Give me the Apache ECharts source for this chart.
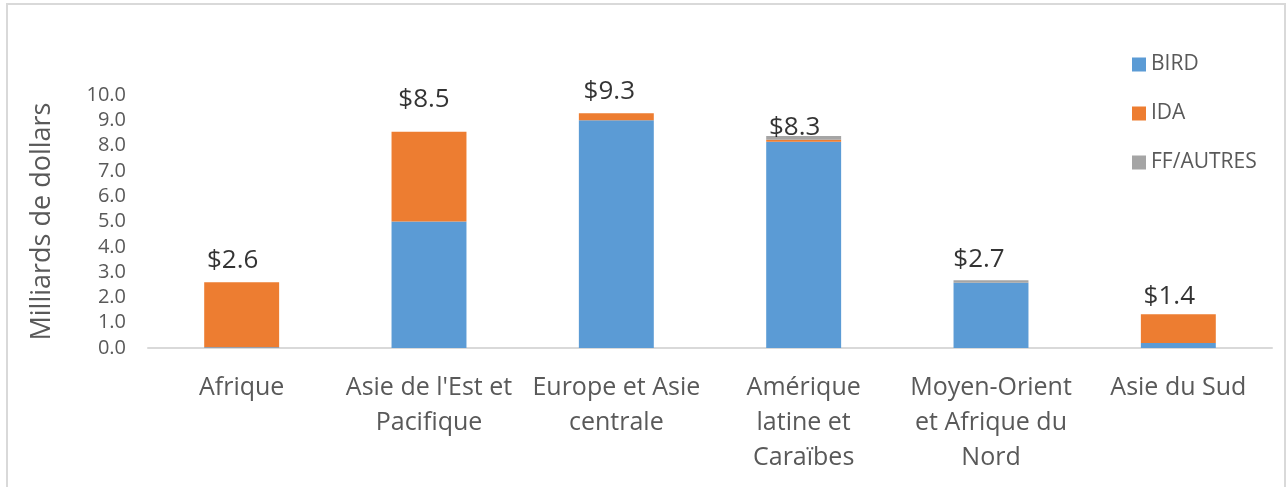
<!DOCTYPE html>
<html>
<head>
<meta charset="utf-8">
<script src="https://cdn.jsdelivr.net/npm/echarts@6/dist/echarts.min.js"></script>
<style>
  html, body { margin: 0; padding: 0; background: #fff; }
  #frame {
    position: absolute; left: 6px; top: 3px; width: 1280px; height: 490px;
    border: 2px solid #d9d9d9; box-sizing: border-box;
  }
  #chart { position: absolute; left: 0; top: 0; width: 1287px; height: 487px; }
</style>
</head>
<body>
<div id="frame"></div>
<div id="chart"></div>
<script>
// regions
var regions = ["Afrique", "Asie de l'Est et\nPacifique", "Europe et Asie\ncentrale",
  "Amérique\nlatine et\nCaraïbes", "Moyen-Orient\net Afrique du\nNord", "Asie du Sud"];
// milliards de dollars
var bird = [0.03, 5.0, 9.0, 8.15, 2.58, 0.2];
var ida = [2.57, 3.55, 0.28, 0.08, 0.0, 1.13];
var autres = [0.0, 0.0, 0.0, 0.15, 0.1, 0.0];
var totals = [2.6, 8.5, 9.3, 8.3, 2.7, 1.4];

// label nudges (pixels) so the totals sit where the original put them
var labelOffsets = [[-9, -9], [-5, -20], [-7, -8], [-9, 3], [-12, -7], [-9, -3]];

var myChart = echarts.init(document.getElementById("chart"));
var font = "'Open Sans', sans-serif";

var option = {
  animation: false,
  textStyle: { fontFamily: font },
  grid: { left: 148, right: 15, top: 95, bottom: 139 },
  legend: {
    orient: "vertical",
    left: 1127,
    top: 49,
    itemGap: 28,
    itemWidth: 14,
    itemHeight: 14,
    icon: "rect",
    textStyle: { fontSize: 21, color: "#595959", fontFamily: font },
    data: ["BIRD", "IDA", "FF/AUTRES"]
  },
  xAxis: {
    type: "category",
    data: regions,
    axisLine: { lineStyle: { color: "#d9d9d9", width: 2 } },
    axisTick: { show: false },
    axisLabel: { color: "#595959", fontSize: 25, lineHeight: 35, margin: 22, interval: 0 }
  },
  yAxis: {
    type: "value",
    min: 0,
    max: 10,
    interval: 1,
    name: "Milliards de dollars",
    nameLocation: "middle",
    nameGap: 92,
    nameTextStyle: { fontSize: 27, color: "#595959" },
    axisLine: { show: false },
    axisTick: { show: false },
    splitLine: { show: false },
    axisLabel: {
      color: "#595959", fontSize: 20, margin: 22,
      formatter: function (v) { return v.toFixed(1); }
    }
  },
  series: [
    {
      name: "BIRD", type: "bar", stack: "total", barWidth: "40%",
      itemStyle: { color: "#5b9bd5" }, data: bird
    },
    {
      name: "IDA", type: "bar", stack: "total",
      itemStyle: { color: "#ed7d31" }, data: ida
    },
    {
      name: "FF/AUTRES", type: "bar", stack: "total",
      itemStyle: { color: "#a5a5a5" }, data: autres
    },
    {
      name: "totaux", type: "scatter", symbolSize: 0, silent: true,
      data: totals.map(function (v, i) {
        return {
          value: v,
          label: { offset: labelOffsets[i] }
        };
      }),
      label: {
        show: true, position: "top", distance: 0,
        color: "#000", fontSize: 26, fontFamily: font,
        formatter: function (p) { return "$" + p.value.toFixed(1); }
      }
    }
  ]
};
myChart.setOption(option);
</script>
</body>
</html>
